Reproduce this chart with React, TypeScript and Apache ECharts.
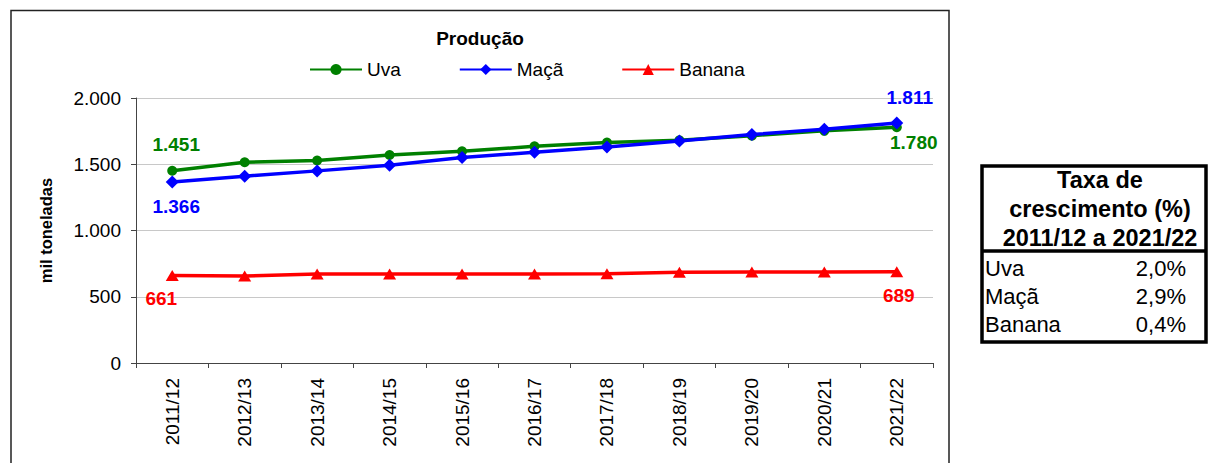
import React, { useEffect, useRef } from "react";
import * as echarts from "echarts";

const categories = [
  "2011/12", "2012/13", "2013/14", "2014/15", "2015/16", "2016/17",
  "2017/18", "2018/19", "2019/20", "2020/21", "2021/22",
];
const uva = [1451, 1515, 1528, 1570, 1598, 1635, 1664, 1681, 1716, 1752, 1780];
const maca = [1366, 1410, 1450, 1493, 1551, 1590, 1631, 1676, 1724, 1764, 1811];
const banana = [661, 657, 671, 671, 671, 672, 674, 684, 686, 687, 689];
const seriesNames = ["Uva", "Maçã", "Banana"];
const tableHeader = ["Taxa de", "crescimento (%)", "2011/12 a 2021/22"];
const tableRows = ["Uva", "Maçã", "Banana"];
const tableRates = ["2,0%", "2,9%", "0,4%"];
const chartTitle = "Produção";
const yAxisTitle = "mil toneladas";

const FONT = '"Liberation Sans", Arial, sans-serif';
const fmt = (v: number) => String(v).replace(/\B(?=(\d{3})+(?!\d))/g, ".");

// label offsets for first / last points (style only)
const labelOffsets: Record<string, [number[], number[]]> = {
  Uva: [[4, -26], [17, 15]],
  "Maçã": [[4, 24], [13, -26]],
  Banana: [[-11, 23], [2, 24]],
};

function buildData(name: string, values: number[], color: string) {
  return values.map((v, i) => {
    if (i === 0 || i === values.length - 1) {
      const off = labelOffsets[name][i === 0 ? 0 : 1];
      return {
        value: v,
        label: {
          show: true,
          position: "inside",
          offset: off,
          formatter: () => fmt(v),
          color,
          fontFamily: FONT,
          fontWeight: "bold",
          fontSize: 19,
        },
      };
    }
    return { value: v };
  });
}

export default function App() {
  const ref = useRef<HTMLDivElement>(null);
  useEffect(() => {
    if (!ref.current) return;
    const chart = echarts.init(ref.current, undefined, { renderer: "svg" });
    const colors = ["#008000", "#0000FF", "#FF0000"];
    const symbols = ["circle", "diamond", "triangle"];
    const sizes: any[] = [10, 13, [13, 11]];
    const values = [uva, maca, banana];

    const textEl = (text: string, x: number, y: number, font: string, align: string) => ({
      type: "text",
      x,
      y,
      style: {
        text,
        font,
        fill: "#000",
        align,
        textAlign: align,
        verticalAlign: "middle",
        textVerticalAlign: "middle",
      },
    });

    const graphics: any[] = [
      {
        type: "rect",
        shape: { x: 11, y: 10.5, width: 938, height: 480 },
        style: { fill: "rgba(0,0,0,0)", stroke: "#222", lineWidth: 1.5 },
        silent: true,
      },
      {
        type: "rect",
        shape: { x: 982, y: 166, width: 224, height: 176 },
        style: { fill: "rgba(0,0,0,0)", stroke: "#000", lineWidth: 3.5 },
        silent: true,
      },
      {
        type: "line",
        shape: { x1: 982, y1: 251, x2: 1206, y2: 251 },
        style: { stroke: "#000", lineWidth: 3.5 },
        silent: true,
      },
    ];
    tableHeader.forEach((t, i) => {
      graphics.push(textEl(t, 1100, 180 + i * 29, `bold 23.5px ${FONT}`, "center"));
    });
    tableRows.forEach((t, i) => {
      graphics.push(textEl(t, 985, 268 + i * 28, `22px ${FONT}`, "left"));
      graphics.push(textEl(tableRates[i], 1186, 268 + i * 28, `22px ${FONT}`, "right"));
    });

    chart.setOption({
      animation: false,
      title: {
        text: chartTitle,
        left: 480,
        top: 29,
        padding: 0,
        textAlign: "center",
        textStyle: { fontFamily: FONT, fontWeight: "bold", fontSize: 19, color: "#000" },
      },
      legend: {
        data: seriesNames,
        left: 309,
        top: 60,
        padding: 0,
        itemWidth: 52,
        itemHeight: 14,
        itemGap: 58,
        selectedMode: false,
        textStyle: { fontFamily: FONT, fontSize: 19, color: "#000" },
      },
      grid: { left: 136, top: 98, width: 797, height: 265, containLabel: false },
      xAxis: {
        type: "category",
        data: categories,
        boundaryGap: true,
        axisLine: { lineStyle: { color: "#444", width: 1 } },
        axisTick: { show: true, length: 5, interval: 0, lineStyle: { color: "#444" } },
        axisLabel: {
          interval: 0,
          rotate: 90,
          margin: 15,
          fontFamily: FONT,
          fontSize: 19,
          color: "#000",
        },
        splitLine: { show: false },
      },
      yAxis: {
        type: "value",
        min: 0,
        max: 2000,
        interval: 500,
        name: yAxisTitle,
        nameLocation: "middle",
        nameRotate: 90,
        nameGap: 82,
        nameTextStyle: { fontFamily: FONT, fontWeight: "bold", fontSize: 16.5, color: "#000" },
        axisLine: { show: true, lineStyle: { color: "#444", width: 1 } },
        axisTick: { show: true, length: 5, lineStyle: { color: "#444" } },
        axisLabel: {
          margin: 15,
          fontFamily: FONT,
          fontSize: 19,
          color: "#000",
          formatter: (v: number) => fmt(v),
        },
        splitLine: { show: true, lineStyle: { color: "#c8c8c8", width: 1 } },
      },
      series: seriesNames.map((name, k) => ({
        name,
        type: "line",
        data: buildData(name, values[k], colors[k]),
        color: colors[k],
        symbol: symbols[k],
        symbolSize: sizes[k],
        showAllSymbol: true,
        lineStyle: { color: colors[k], width: 3.5 },
        itemStyle: { color: colors[k] },
        z: k === 1 ? 3 : 2,
      })),
      graphic: graphics,
    });
    return () => chart.dispose();
  }, []);
  return (
    <div
      ref={ref}
      style={{ position: "absolute", left: 0, top: 0, width: 1208, height: 463, background: "#fff" }}
    />
  );
}
